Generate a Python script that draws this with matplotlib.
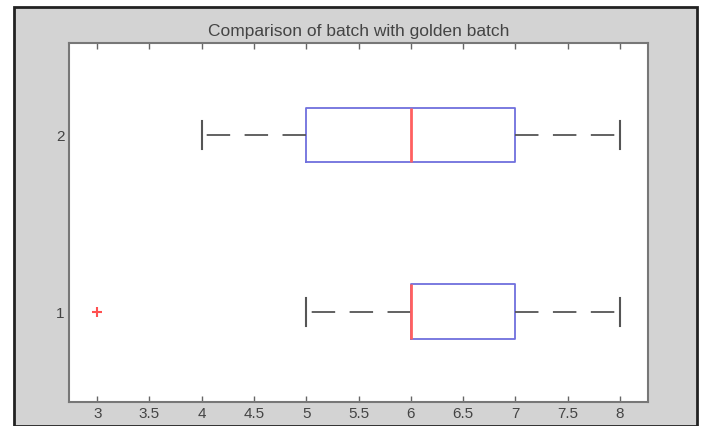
import matplotlib.pyplot as plt
from matplotlib.patches import Rectangle

plt.rcParams["font.family"] = ["Liberation Sans", "DejaVu Sans"]

# box statistics for each batch (1 = batch, 2 = golden batch)
positions = [1, 2]
q1 = [6, 5]
medians = [6, 6]
q3 = [7, 7]
whis_low = [5, 4]
whis_high = [8, 8]
outliers = [[3], []]

xticks = [3, 3.5, 4, 4.5, 5, 5.5, 6, 6.5, 7, 7.5, 8]
xticklabels = ["3", "3.5", "4", "4.5", "5", "5.5", "6", "6.5", "7", "7.5", "8"]

fig = plt.figure(figsize=(7.02, 4.27), dpi=100)
fig.patch.set_facecolor("white")
fig.patches.append(Rectangle((14 / 702, 0), 683 / 702, 419 / 427,
                             transform=fig.transFigure, facecolor="#d3d3d3",
                             edgecolor="#222222", linewidth=2, zorder=-10))

ax = fig.add_axes([69 / 702, 24 / 427, 579 / 702, 359 / 427])
ax.set_facecolor("white")

stats = []
for i in range(len(positions)):
    stats.append(dict(med=medians[i], q1=q1[i], q3=q3[i],
                      whislo=whis_low[i], whishi=whis_high[i],
                      fliers=outliers[i]))

ax.bxp(stats, positions=positions, vert=False, widths=0.31,
       boxprops=dict(color="#7070dd", linewidth=1.3),
       medianprops=dict(color="#ff6060", linewidth=2),
       whiskerprops=dict(color="#555555", linewidth=1.3, linestyle=(0, (13, 8))),
       capprops=dict(color="#555555", linewidth=1.5),
       flierprops=dict(marker="+", markeredgecolor="#ff5050", markersize=7,
                       markeredgewidth=1.5, linestyle="none"),
       capwidths=0.16)

ax.set_xlim(2.73, 8.27)
ax.set_ylim(0.49, 2.52)
ax.set_xticks(xticks)
ax.set_xticklabels(xticklabels)
ax.set_yticks(positions)
ax.set_yticklabels(["1", "2"])
ax.tick_params(axis="x", direction="in", top=True, length=4, width=1,
               color="#666666", labelsize=11, labelcolor="#444444", pad=3)
ax.tick_params(axis="y", direction="in", length=0, labelsize=11,
               labelcolor="#444444", pad=3)
for side in ax.spines.values():
    side.set_color("#777777")
    side.set_linewidth(1.5)

ax.set_title("Comparison of batch with golden batch", fontsize=12.5,
             color="#444444", pad=6)

plt.savefig("out.png", dpi=100)
